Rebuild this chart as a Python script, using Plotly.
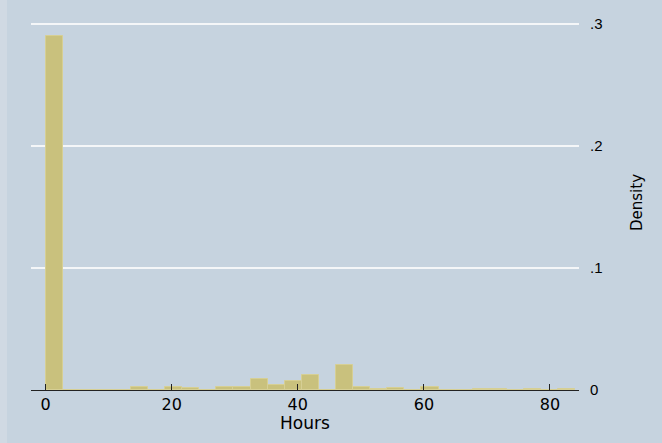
import plotly.graph_objects as go

# Histogram of Hours (density), 31 bins over 0..84
bin_start = 0.0
bin_width = 84.0 / 31
density = [0.290, 0, 0, 0, 0, 0.0022, 0, 0.0025, 0.0014, 0,
           0.0022, 0.0022, 0.0087, 0.0038, 0.0071, 0.0120, 0, 0.0205, 0.0022, 0.0005,
           0.0016, 0, 0.0022, 0, 0, 0.0005, 0.0005, 0, 0.0005, 0,
           0.0005]
x_ticks = [0, 20, 40, 60, 80]
y_ticks = [0, 0.1, 0.2, 0.3]
y_tick_labels = ["0", ".1", ".2", ".3"]

centers = [bin_start + bin_width * (i + 0.5) for i in range(len(density))]

BG = "#c6d3df"
BAR = "#c9c17d"
BAR_EDGE = "#d6cf94"
FONT = "Liberation Sans, Arial, sans-serif"
WIDE = "DejaVu Sans, Verdana, sans-serif"

W, H = 662, 443
L, R, T, B = 31, 83, 10, 53
pw = W - L - R
ph = H - T - B

fig = go.Figure()
fig.add_trace(go.Bar(
    x=centers, y=density, width=[bin_width] * len(density),
    marker=dict(color=BAR, line=dict(color=BAR_EDGE, width=1)),
    showlegend=False, hoverinfo="skip",
))

fig.update_layout(
    width=W, height=H,
    margin=dict(l=L, r=R, t=T, b=B),
    paper_bgcolor=BG, plot_bgcolor=BG,
    font=dict(family=FONT, color="#000000"),
    bargap=0,
    xaxis=dict(
        range=[-2.3, 84.6], tickvals=x_ticks,
        ticks="inside", ticklen=6, tickwidth=1, tickcolor="#222222",
        showline=True, linecolor="#222222", linewidth=1.2,
        showgrid=False, zeroline=False,
        tickfont=dict(size=16, family=WIDE),
    ),
    yaxis=dict(
        side="right", range=[0, ph / 1220.0],
        tickvals=y_ticks, ticktext=y_tick_labels,
        ticks="outside", ticklen=7, tickcolor=BG,
        showgrid=True, gridcolor="#f4f6f8", gridwidth=1.5,
        showline=False, zeroline=False,
        tickfont=dict(size=15, family=FONT),
    ),
    annotations=[
        dict(text="Hours", xref="paper", yref="paper",
             x=0.5, y=-(423 - 390) / ph, xanchor="center", yanchor="middle",
             showarrow=False, font=dict(size=17, family=WIDE)),
        dict(text="Density", xref="paper", yref="paper",
             x=(637 - L) / pw, y=(390 - 203) / ph, xanchor="center", yanchor="middle",
             textangle=-90, showarrow=False, font=dict(size=15, family=WIDE)),
    ],
    shapes=[
        dict(type="rect", xref="paper", yref="paper", layer="below",
             x0=-L / pw, x1=(7 - L) / pw, y0=-B / ph, y1=1 + T / ph,
             fillcolor="#d0d9e3", line=dict(width=0)),
    ],
)

fig.write_html(
    "out.html",
    config={"displayModeBar": False},
    post_script="document.body.style.margin='0';document.body.style.background='%s';" % BG,
)
